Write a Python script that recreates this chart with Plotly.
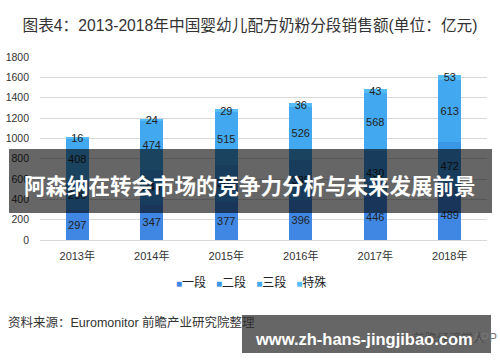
import plotly.graph_objects as go

years = ["2013年", "2014年", "2015年", "2016年", "2017年", "2018年"]
stage1 = [297, 347, 377, 396, 446, 489]
stage2 = [296, 346, 363, 389, 430, 472]
stage3 = [408, 474, 515, 526, 568, 613]
special = [16, 24, 29, 36, 43, 53]
series_names = ["一段", "二段", "三段", "特殊"]
series_values = [stage1, stage2, stage3, special]
colors = ["#3F87E2", "#3A97E6", "#42A8F0", "#55BCF7"]
y_ticks = [0, 200, 400, 600, 800, 1000, 1200, 1400, 1600, 1800]

W, H = 500, 362
L, R, T, B = 40, 13, 57, 122
PW, PH = W - L - R, H - T - B


def px(x):
    return (x - L) / PW


def py(y):
    return (H - B - y) / PH


FONT = "Arial, Liberation Sans, Noto Sans CJK SC, sans-serif"

fig = go.Figure()
for name, vals, col in zip(series_names, series_values, colors):
    fig.add_trace(go.Bar(
        x=years, y=vals, name=name, marker=dict(color=col, line=dict(width=0)),
        texttemplate="%{y}", textposition="inside", insidetextanchor="middle",
        textangle=0, constraintext="none",
        textfont=dict(size=11, color="#222222", family=FONT),
        showlegend=False,
    ))

# legend drawn as text with colored squares
legend_parts = []
for name, col in zip(series_names, colors):
    legend_parts.append(
        f"<span style='color:{col};font-size:10px'>■</span>{name}"
    )
legend_text = "   ".join(legend_parts)

annotations = [
    dict(text=legend_text, xref="paper", yref="paper", x=px(251), y=py(282),
         xanchor="center", yanchor="middle", showarrow=False,
         font=dict(size=12, color="#222222", family=FONT)),
    dict(text="资料来源：Euromonitor 前瞻产业研究院整理", xref="paper", yref="paper",
         x=px(6), y=py(322), xanchor="left", yanchor="middle", showarrow=False,
         font=dict(size=12.5, color="#333333", family=FONT)),
    dict(text="APP", xref="paper", yref="paper",
         x=px(499), y=py(338), xanchor="right", yanchor="middle", showarrow=False,
         font=dict(size=12, color="#777777", family=FONT)),
    dict(text="前瞻经济学人", xref="paper", yref="paper",
         x=px(487), y=py(338), xanchor="right", yanchor="middle", showarrow=False,
         font=dict(size=12, color="#4a4a4a", family=FONT)),
    dict(text="<b>阿森纳在转会市场的竞争力分析与未来发展前景</b>", xref="paper", yref="paper",
         x=px(250), y=py(184), xanchor="center", yanchor="middle", showarrow=False,
         font=dict(size=21.5, color="#ffffff", family="Noto Sans CJK SC, sans-serif")),
    dict(text="<b>www.zh-hans-jingjibao.com</b>", xref="paper", yref="paper",
         x=px(364), y=py(339), xanchor="center", yanchor="middle", showarrow=False,
         font=dict(size=16.5, color="#ffffff", family="Liberation Sans, Arial, sans-serif")),
]

shapes = [
    dict(type="rect", xref="paper", yref="paper", x0=px(9), x1=px(492),
         y0=py(213), y1=py(149), fillcolor="rgba(0,0,0,0.6)",
         line=dict(width=0), layer="above"),
    dict(type="rect", xref="paper", yref="paper", x0=px(242), x1=px(491),
         y0=py(353), y1=py(315), fillcolor="rgba(0,0,0,0.6)",
         line=dict(width=0), layer="above"),
]

fig.update_layout(
    width=W, height=H,
    margin=dict(l=L, r=R, t=T, b=B, pad=0, autoexpand=False),
    paper_bgcolor="white", plot_bgcolor="white",
    barmode="stack", bargap=0.69,
    font=dict(family=FONT, color="#333333"),
    title=dict(text="图表4：2013-2018年中国婴幼儿配方奶粉分段销售额(单位：亿元)",
               x=0.5, xanchor="center", xref="container",
               y=1 - 26 / H, yanchor="middle", yref="container",
               font=dict(size=15.7, color="#333333", family=FONT)),
    uniformtext=dict(minsize=11, mode="show"),
    annotations=annotations,
    shapes=shapes,
    showlegend=False,
)
fig.update_xaxes(showgrid=False, showline=False, ticks="", automargin=False,
                 ticklabelstandoff=8,
                 tickfont=dict(size=11, color="#333333", family=FONT))
fig.update_yaxes(range=[0, 1800], tickvals=y_ticks, showgrid=True, automargin=False,
                 gridcolor="#D9D9D9", gridwidth=1, zeroline=True,
                 zerolinecolor="#D9D9D9", zerolinewidth=1, showline=False,
                 ticks="", ticklabelstandoff=10,
                 tickfont=dict(size=10.5, color="#333333", family=FONT))

fig.write_html("out.html", config={"displayModeBar": False},
               post_script="document.body.style.margin='0';")
